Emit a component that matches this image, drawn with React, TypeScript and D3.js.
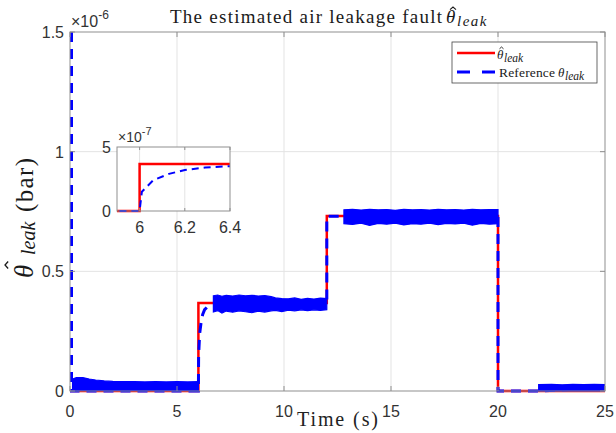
import * as d3 from 'd3'

// values in units of 1e-6 bar
const leakT = [0, 6, 6, 12, 12, 20, 20, 25]
const leakV = [0, 0, 0.368, 0.368, 0.731, 0.731, 0, 0]

const refT = [0.07, 0.07, 6.0, 6.01, 6.06, 6.13, 6.2, 6.29, 6.4, 6.7, 12.0, 12.0, 12.8, 20.0, 20.0, 22.0, 25]
const refV = [1.5, 0, 0, 0.15, 0.24, 0.29, 0.32, 0.34, 0.35, 0.36, 0.36, 0.73, 0.73, 0.73, 0, 0, 0.014]

// oscillation envelopes of the reference signal
const band1T = [0.12, 0.3, 0.6, 0.9, 1.2, 1.6, 2.0, 2.5, 3.0, 3.5, 4.0, 4.5, 5.0, 5.5, 6.0]
const band1Hi = [0.05, 0.056, 0.056, 0.05, 0.046, 0.042, 0.04, 0.039, 0.039, 0.038, 0.039, 0.038, 0.039, 0.038, 0.039]
const band1Lo = [0.002, 0.002, 0.002, 0.002, 0.002, 0.002, 0.002, 0.002, 0.002, 0.002, 0.002, 0.002, 0.002, 0.002, 0.002]

const band2T = [6.7, 6.9, 7.1, 7.3, 7.6, 7.9, 8.2, 8.5, 8.8, 9.1, 9.4, 9.6, 9.9, 10.2, 10.5, 10.8, 11.1, 11.4, 11.7, 12.0]
const band2Hi = [0.398, 0.401, 0.396, 0.4, 0.397, 0.401, 0.398, 0.4, 0.397, 0.399, 0.394, 0.389, 0.386, 0.385, 0.389, 0.383, 0.387, 0.384, 0.388, 0.386]
const band2Lo = [0.33, 0.336, 0.326, 0.334, 0.329, 0.335, 0.331, 0.327, 0.334, 0.33, 0.335, 0.337, 0.332, 0.338, 0.335, 0.339, 0.336, 0.339, 0.337, 0.34]

const band3T = [12.8, 13.2, 13.6, 14.0, 14.4, 14.8, 15.2, 15.6, 16.0, 16.4, 16.8, 17.2, 17.6, 18.0, 18.4, 18.8, 19.2, 19.6, 20.0]
const band3Hi = [0.757, 0.759, 0.756, 0.759, 0.757, 0.758, 0.755, 0.759, 0.757, 0.758, 0.756, 0.759, 0.757, 0.758, 0.756, 0.759, 0.757, 0.758, 0.758]
const band3Lo = [0.699, 0.696, 0.701, 0.692, 0.7, 0.697, 0.701, 0.694, 0.699, 0.697, 0.701, 0.695, 0.7, 0.698, 0.701, 0.693, 0.7, 0.697, 0.699]

const band4T = [21.9, 22.5, 23.0, 23.5, 24.0, 24.5, 25.0]
const band4Hi = [0.027, 0.028, 0.026, 0.028, 0.027, 0.028, 0.027]
const band4Lo = [0.0, 0.0, 0.0, 0.0, 0.0, 0.0, 0.0]

const xTicks = [0, 5, 10, 15, 20, 25]
const yTicks = [0, 0.5, 1, 1.5]
const yTickLabels = ['0', '0.5', '1', '1.5']
const insetXTicks = [6, 6.2, 6.4]
const insetXTickLabels = ['6', '6.2', '6.4']
const insetYTicks = [0, 0.5]
const insetYTickLabels = ['0', '5']

const RED = '#ff0000'
const BLUE = '#0000ff'
const AXIS = '#8f8f8f'
const TXT = '#333333'
const GRID = '#e3e3e3'
const INK = '#1a1a1a'
const SANS = '"Liberation Sans", Arial, sans-serif'
const SERIF = '"Liberation Serif", "DejaVu Serif", serif'

function zip(t: number[], v: number[]): [number, number][] {
  return t.map((d, i) => [d, v[i]])
}

// little circumflex drawn over a theta
function Hat({ cx, top, w, sw = 1.1 }: { cx: number; top: number; w: number; sw?: number }) {
  return (
    <path
      d={`M${cx - w / 2},${top + w * 0.45}L${cx},${top}L${cx + w / 2},${top + w * 0.45}`}
      fill="none"
      stroke={INK}
      strokeWidth={sw}
    />
  )
}

export default function App() {
  const x = d3.scaleLinear().domain([0, 25]).range([70, 605])
  const y = d3.scaleLinear().domain([0, 1.5]).range([391, 32])
  const ix = d3.scaleLinear().domain([5.9, 6.4]).range([117, 230])
  const iy = d3.scaleLinear().domain([0, 0.5]).range([211, 147])

  const line = d3.line<[number, number]>().x((d) => x(d[0])).y((d) => y(d[1]))
  const iline = d3.line<[number, number]>().x((d) => ix(d[0])).y((d) => iy(d[1]))
  const area = (t: number[], hi: number[], lo: number[]) =>
    d3
      .area<number>()
      .x((i) => x(t[i]))
      .y0((i) => y(lo[i]))
      .y1((i) => y(hi[i]))(d3.range(t.length))

  const leak = zip(leakT, leakV)
  const ref = zip(refT, refV)
  const bands = [
    [band1T, band1Hi, band1Lo],
    [band2T, band2Hi, band2Lo],
    [band3T, band3Hi, band3Lo],
    [band4T, band4Hi, band4Lo],
  ]

  const [x0, x1] = x.range()
  const [yb, yt] = y.range()
  const [ix0, ix1] = ix.range()
  const [iyb, iyt] = iy.range()

  return (
    <>
      <style>{'body{margin:0}'}</style>
      <svg width={616} height={433} style={{ display: 'block', background: '#fff' }}>
        <defs>
          <clipPath id="mainClip">
            <rect x={x0} y={yt - 2} width={x1 - x0} height={yb - yt + 4} />
          </clipPath>
          <clipPath id="insetClip">
            <rect x={ix0} y={iyt} width={ix1 - ix0} height={iyb - iyt + 2} />
          </clipPath>
        </defs>

        {/* grid */}
        {xTicks.slice(1, -1).map((t) => (
          <line key={'gx' + t} x1={x(t)} x2={x(t)} y1={yt} y2={yb} stroke={GRID} />
        ))}
        {yTicks.slice(1, -1).map((t) => (
          <line key={'gy' + t} x1={x0} x2={x1} y1={y(t)} y2={y(t)} stroke={GRID} />
        ))}

        {/* data */}
        <g clipPath="url(#mainClip)">
          <path d={line(leak)!} fill="none" stroke={RED} strokeWidth={2.5} />
          <path d={line(ref)!} fill="none" stroke={BLUE} strokeWidth={3} strokeDasharray="10,7" />
          {bands.map(([t, hi, lo], i) => (
            <path key={'b' + i} d={area(t, hi, lo)!} fill={BLUE} stroke={BLUE} strokeWidth={1.2} />
          ))}
        </g>

        {/* axes box */}
        <rect x={x0} y={yt} width={x1 - x0} height={yb - yt} fill="none" stroke={AXIS} />
        {xTicks.map((t) => (
          <g key={'xt' + t}>
            <line x1={x(t)} x2={x(t)} y1={yb} y2={yb - 5} stroke={AXIS} />
            <line x1={x(t)} x2={x(t)} y1={yt} y2={yt + 5} stroke={AXIS} />
            <text x={x(t)} y={yb + 26} textAnchor="middle" fontFamily={SANS} fontSize={16} fill={TXT}>
              {t}
            </text>
          </g>
        ))}
        {yTicks.map((t, i) => (
          <g key={'yt' + t}>
            <line x1={x0} x2={x0 + 5} y1={y(t)} y2={y(t)} stroke={AXIS} />
            <line x1={x1} x2={x1 - 5} y1={y(t)} y2={y(t)} stroke={AXIS} />
            <text x={x0 - 6} y={y(t) + 6} textAnchor="end" fontFamily={SANS} fontSize={16} fill={TXT}>
              {yTickLabels[i]}
            </text>
          </g>
        ))}
        <text x={71} y={27} fontFamily={SANS} fontSize={16} fill={TXT}>
          ×10<tspan dy={-8} fontSize={12}>-6</tspan>
        </text>

        {/* title */}
        <g fontFamily={SERIF} fill={INK}>
          <text x={170} y={23} fontSize={19} textLength={272} lengthAdjust="spacing">
            The estimated air leakage fault
          </text>
          <text x={446} y={23} fontSize={19} fontStyle="italic">θ</text>
          <Hat cx={453} top={7} w={6} />
          <text x={457} y={26} fontSize={15} fontStyle="italic" letterSpacing={1.5}>
            leak
          </text>
        </g>

        {/* x label */}
        <text x={297} y={426} fontFamily={SERIF} fontSize={20} fill="#222" textLength={81} lengthAdjust="spacing">
          Time (s)
        </text>

        {/* y label, rotated */}
        <g transform="translate(33,215) rotate(-90)" fontFamily={SERIF} fill={INK}>
          <text x={-63} y={0} fontSize={27} fontStyle="italic">θ</text>
          <Hat cx={-50} top={-28} w={7} sw={1.3} />
          <text x={-40} y={2} fontSize={20} fontStyle="italic">
            leak
          </text>
          <text x={3} y={0} fontSize={25} textLength={54} lengthAdjust="spacing">
            (bar)
          </text>
        </g>

        {/* legend */}
        <rect x={452} y={42} width={145} height={41} fill="#fff" stroke="#444" strokeWidth={0.8} />
        <line x1={457} x2={495} y1={53} y2={53} stroke={RED} strokeWidth={2.5} />
        <line x1={457} x2={495} y1={72} y2={72} stroke={BLUE} strokeWidth={3} strokeDasharray="13,12" />
        <g fontFamily={SERIF} fill={INK}>
          <text x={497} y={59} fontSize={13} fontStyle="italic">θ</text>
          <Hat cx={501.5} top={47} w={4} sw={0.9} />
          <text x={504} y={62} fontSize={11.5} fontStyle="italic">
            leak
          </text>
          <text x={499} y={77} fontSize={13.5} textLength={56} lengthAdjust="spacing">
            Reference
          </text>
          <text x={558} y={77} fontSize={13} fontStyle="italic">θ</text>
          <text x={565} y={80} fontSize={11.5} fontStyle="italic">
            leak
          </text>
        </g>

        {/* inset */}
        <rect x={ix0} y={iyt} width={ix1 - ix0} height={iyb - iyt} fill="#fff" />
        {insetXTicks.slice(0, -1).map((t) => (
          <line key={'igx' + t} x1={ix(t)} x2={ix(t)} y1={iyt} y2={iyb} stroke={GRID} />
        ))}
        <g clipPath="url(#insetClip)">
          <path d={iline(leak)!} fill="none" stroke={RED} strokeWidth={2.5} />
          <path d={iline(ref)!} fill="none" stroke={BLUE} strokeWidth={2} strokeDasharray="7,5" />
        </g>
        <rect x={ix0} y={iyt} width={ix1 - ix0} height={iyb - iyt} fill="none" stroke={AXIS} />
        {insetXTicks.map((t, i) => (
          <g key={'ixt' + t}>
            <line x1={ix(t)} x2={ix(t)} y1={iyb} y2={iyb - 3} stroke={AXIS} />
            <line x1={ix(t)} x2={ix(t)} y1={iyt} y2={iyt + 3} stroke={AXIS} />
            <text x={ix(t)} y={iyb + 22} textAnchor="middle" fontFamily={SANS} fontSize={16} fill={TXT}>
              {insetXTickLabels[i]}
            </text>
          </g>
        ))}
        {insetYTicks.map((t, i) => (
          <text key={'iyt' + t} x={ix0 - 6} y={iy(t) + 6} textAnchor="end" fontFamily={SANS} fontSize={16} fill={TXT}>
            {insetYTickLabels[i]}
          </text>
        ))}
        <text x={118} y={142} fontFamily={SANS} fontSize={14} fill={TXT}>
          ×10<tspan dy={-7} fontSize={11}>-7</tspan>
        </text>
      </svg>
    </>
  )
}
